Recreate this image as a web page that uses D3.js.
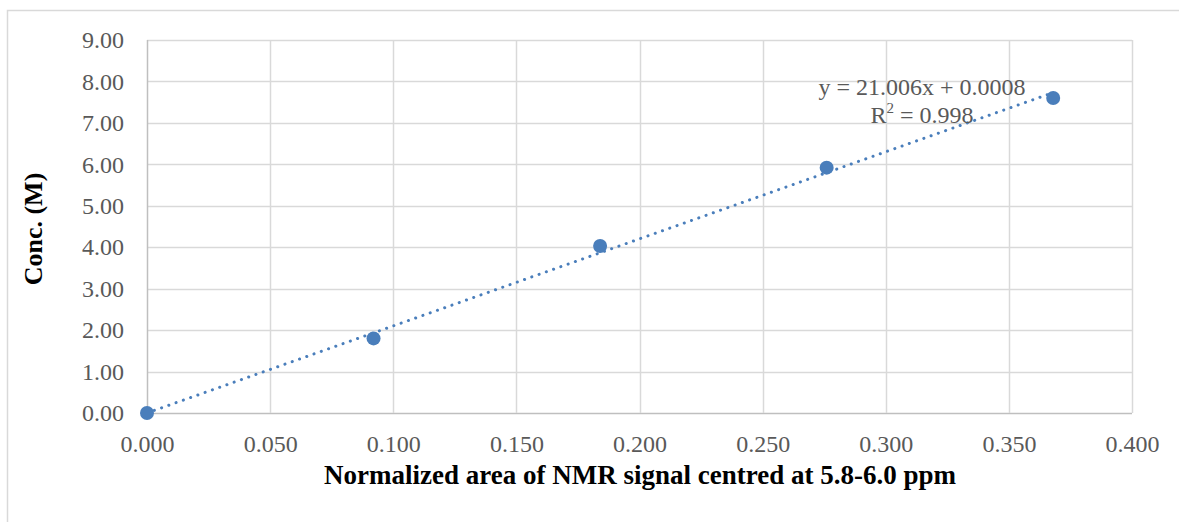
<!DOCTYPE html>
<html><head><meta charset="utf-8">
<script src="https://cdn.jsdelivr.net/npm/d3@7/dist/d3.min.js"></script>
<style>body{margin:0;background:#fff}svg{display:block}</style>
</head><body><svg id="c" width="1179" height="522"></svg>
<script>
const xValues = [0.000, 0.092, 0.184, 0.276, 0.368];
const yValues = [0.00, 1.80, 4.03, 5.92, 7.60];
const xTicks = [0, 0.05, 0.1, 0.15, 0.2, 0.25, 0.3, 0.35, 0.4];
const yTicks = [0, 1, 2, 3, 4, 5, 6, 7, 8, 9];
const slope = 21.006, intercept = 0.0008;
const eqText = "y = 21.006x + 0.0008";
const r2Text = "0.998";
const xTitle = "Normalized area of NMR signal centred at 5.8-6.0 ppm";
const yTitle = "Conc. (M)";

const svg = d3.select("#c");
const font = "'Liberation Serif', 'DejaVu Serif', serif";
const L = 147, R = 1132, T = 40, B = 413;
const x = d3.scaleLinear().domain([0, 0.4]).range([L, R]);
const y = d3.scaleLinear().domain([0, 9]).range([B, T]);

// outer border
svg.append("rect").attr("x", 7.5).attr("y", 10.5).attr("width", 1300).attr("height", 700)
  .attr("fill", "none").attr("stroke", "#d9d9d9").attr("stroke-width", 1.5);

// gridlines
svg.append("g").selectAll("line").data(yTicks).join("line")
  .attr("x1", L).attr("x2", R).attr("y1", d => Math.round(y(d)) + 0.5).attr("y2", d => Math.round(y(d)) + 0.5)
  .attr("stroke", d => d === 0 ? "#bfbfbf" : "#d9d9d9").attr("stroke-width", 1.5);
svg.append("g").selectAll("line").data(xTicks).join("line")
  .attr("y1", T).attr("y2", B).attr("x1", d => Math.round(x(d)) + 0.5).attr("x2", d => Math.round(x(d)) + 0.5)
  .attr("stroke", d => d === 0 ? "#bfbfbf" : "#d9d9d9").attr("stroke-width", 1.5);

// axes labels via d3 axis
const yAxis = svg.append("g").attr("transform", `translate(${L},0)`)
  .call(d3.axisLeft(y).tickValues(yTicks).tickFormat(d3.format(".2f")).tickSize(0).tickPadding(23));
const xAxis = svg.append("g").attr("transform", `translate(0,${B})`)
  .call(d3.axisBottom(x).tickValues(xTicks).tickFormat(d3.format(".3f")).tickSize(0).tickPadding(22));
[yAxis, xAxis].forEach(a => {
  a.select(".domain").remove();
  a.selectAll("text").attr("fill", "#595959").style("font-family", font).style("font-size", "24px");
});

// trendline
const xs = [0, d3.max(xValues)];
svg.append("line")
  .attr("x1", x(xs[0])).attr("y1", y(slope * xs[0] + intercept))
  .attr("x2", x(xs[1])).attr("y2", y(slope * xs[1] + intercept))
  .attr("stroke", "#4a7ebb").attr("stroke-width", 3)
  .attr("stroke-linecap", "round").attr("stroke-dasharray", "0.1,7.6");

// points
svg.append("g").selectAll("circle").data(xValues).join("circle")
  .attr("cx", d => x(d)).attr("cy", (d, i) => y(yValues[i])).attr("r", 7)
  .attr("fill", "#4a7ebb");

// equation
const eq = svg.append("text").attr("x", 922).attr("y", 95).attr("text-anchor", "middle")
  .attr("fill", "#595959").style("font-family", font).style("font-size", "24px").text(eqText);
const r2 = svg.append("text").attr("x", 922).attr("y", 123).attr("text-anchor", "middle")
  .attr("fill", "#595959").style("font-family", font).style("font-size", "24px");
r2.append("tspan").text("R");
r2.append("tspan").attr("dy", -10).style("font-size", "15px").text("2");
r2.append("tspan").attr("dy", 10).text(" = " + r2Text);

// axis titles
svg.append("text").attr("x", 640).attr("y", 484).attr("text-anchor", "middle")
  .attr("fill", "#000").style("font-family", font).style("font-size", "27px").style("font-weight", "bold")
  .text(xTitle);
svg.append("text").attr("transform", `translate(42,${229}) rotate(-90)`).attr("text-anchor", "middle")
  .attr("fill", "#000").style("font-family", font).style("font-size", "26px").style("font-weight", "bold")
  .text(yTitle);
</script></body></html>
